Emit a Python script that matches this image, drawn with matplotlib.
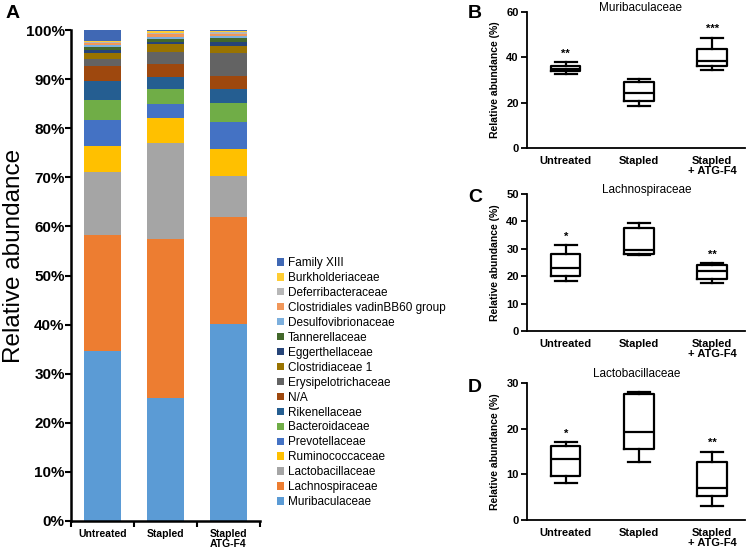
import numpy as np
import matplotlib
matplotlib.use('Agg')
import matplotlib.pyplot as plt
from matplotlib.patches import Patch

plt.rcParams['font.family'] = ['Liberation Sans', 'DejaVu Sans']

# ---- panel A data (percent, bottom to top) ----
groups_a = ['Untreated', 'Stapled', 'Stapled\nATG-F4']
families = ['Muribaculaceae', 'Lachnospiraceae', 'Lactobacillaceae', 'Ruminococcaceae',
            'Prevotellaceae', 'Bacteroidaceae', 'Rikenellaceae', 'N/A',
            'Erysipelotrichaceae', 'Clostridiaceae 1', 'Eggerthellaceae', 'Tannerellaceae',
            'Desulfovibrionaceae', 'Clostridiales vadinBB60 group', 'Deferribacteraceae',
            'Burkholderiaceae', 'Family XIII']
untreated = [34.6, 23.6, 12.9, 5.3, 5.3, 4.0, 3.9, 3.0, 1.4, 1.3, 0.6, 0.7, 0.4, 0.4, 0.2, 0.2, 2.2]
stapled = [25.1, 32.3, 19.6, 5.1, 2.9, 2.9, 2.5, 2.6, 2.6, 1.5, 0.5, 0.5, 0.4, 0.6, 0.3, 0.3, 0.3]
stapled_atg = [40.1, 21.8, 8.4, 5.5, 5.5, 3.8, 2.9, 2.6, 4.8, 1.4, 0.8, 0.7, 0.5, 0.4, 0.3, 0.3, 0.2]
colors = ['#5B9BD5', '#ED7D31', '#A5A5A5', '#FFC000', '#4472C4', '#70AD47', '#255E91',
          '#9E480E', '#636363', '#997300', '#264478', '#43682B', '#7CAFDD', '#F1975A',
          '#B7B7B7', '#FFCD33', '#4068B4']

# ---- box plot data: (low whisker, q1, median, q3, high whisker) ----
groups_box = ['Untreated', 'Stapled', 'Stapled\n+ ATG-F4']
muri_stats = [(32.8, 33.8, 34.7, 36.3, 37.9), (18.4, 20.6, 24.4, 29.3, 30.6), (34.4, 36.3, 38.4, 43.8, 48.7)]
muri_stars = ['**', '', '***']
lachno_stats = [(18.2, 20.2, 23.1, 28.1, 31.5), (27.6, 28.1, 29.6, 37.5, 39.3), (17.4, 19.0, 22.0, 24.2, 24.8)]
lachno_stars = ['*', '', '**']
lacto_stats = [(8.2, 9.6, 13.3, 16.2, 17.0), (12.6, 15.5, 19.3, 27.5, 28.1), (3.1, 5.2, 7.1, 12.7, 15.0)]
lacto_stars = ['*', '', '**']

W, H = 755, 550
fig = plt.figure(figsize=(W / 100, H / 100), dpi=100)


def px_rect(x0, y0, x1, y1):
    return [x0 / W, 1 - y1 / H, (x1 - x0) / W, (y1 - y0) / H]


# ---- panel A ----
ax = fig.add_axes(px_rect(71, 30, 260, 521))
data = np.array([untreated, stapled, stapled_atg])
x = np.arange(len(groups_a))
bottom = np.zeros(len(groups_a))
for i, fam in enumerate(families):
    ax.bar(x, data[:, i], 0.59, bottom=bottom, color=colors[i], label=fam, linewidth=0)
    bottom += data[:, i]
ax.set_xlim(-0.5, 2.5)
ax.set_ylim(0, 100)
ax.set_yticks(np.arange(0, 101, 10))
ax.set_yticklabels([f'{v}%' for v in range(0, 101, 10)], fontsize=11, fontweight='bold')
ax.set_xticks(x)
ax.set_xticklabels(groups_a, fontsize=7.5, fontweight='bold', linespacing=1.0)
ax.set_xticks([-0.5, 0.5, 1.5, 2.5], minor=True)
ax.tick_params(axis='x', which='major', length=0, pad=6)
ax.tick_params(axis='x', which='minor', length=4, width=1.5)
ax.tick_params(axis='y', length=4, width=1.5, pad=0.5)
for s in ['top', 'right']:
    ax.spines[s].set_visible(False)
for s in ['left', 'bottom']:
    ax.spines[s].set_linewidth(1.8)
ax.set_ylabel('Relative abundance', fontsize=17.5)
ax.yaxis.set_label_coords(-0.243, 0.54)

handles = [Patch(facecolor=c, edgecolor='none') for c in colors][::-1]
fig.legend(handles, families[::-1], loc='upper left', bbox_to_anchor=(277 / W, 1 - 257 / H),
           frameon=False, fontsize=8.5, handlelength=0.6, handleheight=0.6, handletextpad=0.3,
           labelspacing=0.25, borderaxespad=0, borderpad=0)

fig.text(6 / W, 1 - 13 / H, 'A', fontsize=14, fontweight='bold', va='center', ha='left')


# ---- box plot panels ----
def box_panel(rect, stats, stars, ymax, step, title, title_xy, letter, letter_y, star_off):
    ax = fig.add_axes(rect)
    bxp = []
    for st in stats:
        bxp.append({'whislo': st[0], 'q1': st[1], 'med': st[2], 'q3': st[3], 'whishi': st[4], 'fliers': []})
    lw = 1.6
    ax.bxp(bxp, positions=range(3), widths=0.4, showfliers=False,
           boxprops=dict(linewidth=lw, color='black'), medianprops=dict(linewidth=lw, color='black'),
           whiskerprops=dict(linewidth=lw, color='black'), capprops=dict(linewidth=lw, color='black'),
           capwidths=0.3)
    for i, s in enumerate(stars):
        if s:
            ax.text(i, stats[i][4] + star_off, s, ha='center', va='bottom', fontsize=8, fontweight='bold')
    ax.set_xlim(-0.53, 2.45)
    ax.set_ylim(0, ymax)
    ax.set_yticks(np.arange(0, ymax + 1, step))
    ax.set_yticklabels([str(v) for v in range(0, ymax + 1, step)], fontsize=8, fontweight='bold')
    ax.set_xticks(range(3))
    ax.set_xticklabels(groups_box, fontsize=8, fontweight='bold', linespacing=1.0)
    ax.tick_params(axis='x', length=0, pad=6)
    ax.tick_params(axis='y', length=4, width=1.3, pad=2)
    for s in ['top', 'right']:
        ax.spines[s].set_visible(False)
    for s in ['left', 'bottom']:
        ax.spines[s].set_linewidth(1.3)
    ax.set_ylabel('Relative abundance (%)', fontsize=7.5, fontweight='bold')
    ax.yaxis.set_label_coords(-0.125, 0.5)
    fig.text(title_xy[0] / W, 1 - title_xy[1] / H, title, fontsize=8.5, ha='center', va='center')
    fig.text(468 / W, 1 - letter_y / H, letter, fontsize=14, fontweight='bold', va='center', ha='left')
    return ax


box_panel(px_rect(527, 12, 745, 148), muri_stats, muri_stars, 60, 20,
          'Muribaculaceae', (640, 8), 'B', 14, 1.5)
box_panel(px_rect(527, 194, 745, 331), lachno_stats, lachno_stars, 50, 10,
          'Lachnospiraceae', (647, 190), 'C', 197, 1.2)
box_panel(px_rect(527, 383, 745, 520), lacto_stats, lacto_stars, 30, 10,
          'Lactobacillaceae', (637, 374), 'D', 387, 0.8)

fig.savefig('out.png', dpi=100)
